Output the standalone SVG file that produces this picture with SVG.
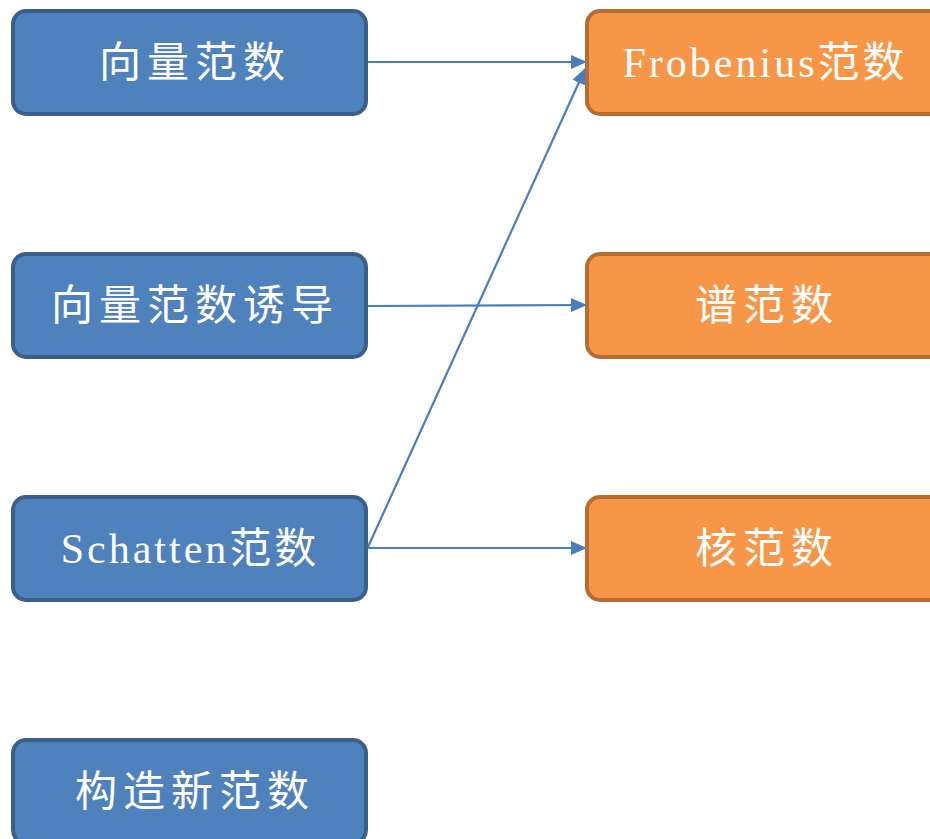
<svg xmlns="http://www.w3.org/2000/svg" width="930" height="839" viewBox="0 0 930 839">
<style>
.blue rect{fill:#4f81bd;stroke:#3a5f8b;stroke-width:4}
.orange rect{fill:#f79646;stroke:#b66d31;stroke-width:4}
text{fill:#ffffff;font-family:"Liberation Serif","Noto Sans CJK SC",serif;font-size:42px;text-anchor:middle;dominant-baseline:central;letter-spacing:6px}
text.mix{letter-spacing:3px}
.conn line{stroke:#4a7ebb;stroke-width:2.2;fill:none}
</style>
<defs>
<marker id="arr" markerWidth="16" markerHeight="14" refX="15" refY="7" orient="auto" markerUnits="userSpaceOnUse">
<path d="M0,0 L16,7 L0,14 Z" fill="#4a7ebb"/>
</marker>
</defs>
<g id="n1" class="blue"><rect x="13" y="11" width="353" height="103" rx="13"/><text x="195" y="63">向量范数</text></g>
<g id="n2" class="blue"><rect x="13" y="254" width="353" height="103" rx="13"/><text x="195" y="306">向量范数诱导</text></g>
<g id="n3" class="blue"><rect x="13" y="497" width="353" height="103" rx="13"/><text class="mix" x="190" y="549">Schatten范数</text></g>
<g id="n4" class="blue"><rect x="13" y="740" width="353" height="103" rx="13"/><text x="195" y="792">构造新范数</text></g>
<g id="r1" class="orange"><rect x="587" y="11" width="360" height="103" rx="13"/><text class="mix" x="765" y="63">Frobenius范数</text></g>
<g id="r2" class="orange"><rect x="587" y="254" width="360" height="103" rx="13"/><text x="767" y="306">谱范数</text></g>
<g id="r3" class="orange"><rect x="587" y="497" width="360" height="103" rx="13"/><text x="767" y="549">核范数</text></g>
<g id="connectors" class="conn">
<line x1="368" y1="62" x2="586" y2="62" marker-end="url(#arr)"/>
<line x1="368" y1="306" x2="586" y2="305" marker-end="url(#arr)"/>
<line x1="368" y1="548" x2="586" y2="548" marker-end="url(#arr)"/>
<line x1="368" y1="547" x2="585" y2="69" marker-end="url(#arr)"/>
</g>
</svg>
